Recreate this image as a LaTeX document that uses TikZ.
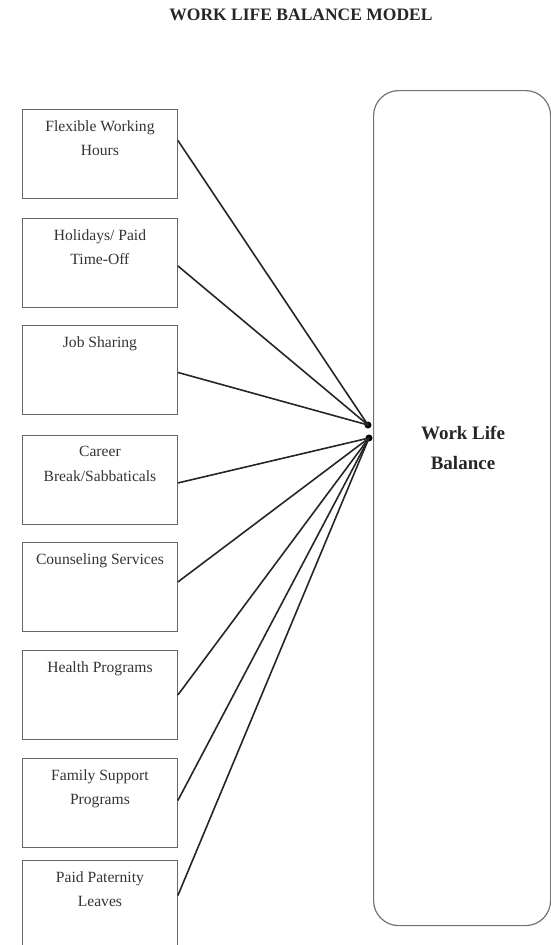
\documentclass[tikz,border=0pt]{standalone}
\usepackage{fontspec}
\setmainfont{Liberation Serif}
\begin{document}
\begin{tikzpicture}[x=1pt,y=-1pt,
  factorbox/.style={draw=black!60, line width=0.9pt, minimum width=155pt, minimum height=89pt, inner sep=0pt, anchor=north west},
  factortext/.style={font=\fontsize{15.6}{24.5}\selectfont, text=black!80, align=center, anchor=north, inner sep=0pt},
  link/.style={line width=1.6pt, draw=black!85},
  hub/.style={circle, fill=black, inner sep=0pt, minimum size=7pt}]
\useasboundingbox (0,0) rectangle (551,945);
\node[font=\bfseries\fontsize{17.5}{20}\selectfont, text=black!85] (title) at (301,15) {WORK LIFE BALANCE MODEL};
% big rounded box
\node[draw=black!55, line width=1.2pt, rounded corners=25pt, minimum width=177pt, minimum height=835pt, anchor=north west, inner sep=0pt] (wlb) at (373,90) {};
\node[font=\bfseries\fontsize{19}{30}\selectfont, text=black!85, align=center] (wlbtext) at (463,448) {Work Life\\Balance};
% hubs
\node[hub] (d1) at (368,425) {};
\node[hub] (d2) at (369,438) {};
% factor boxes
\node[factorbox] (b1) at (22,109) {};
\node[factorbox] (b2) at (22,218) {};
\node[factorbox] (b3) at (22,325) {};
\node[factorbox] (b4) at (22,435) {};
\node[factorbox] (b5) at (22,542) {};
\node[factorbox] (b6) at (22,650) {};
\node[factorbox] (b7) at (22,758) {};
\node[factorbox] (b8) at (22,860) {};
\node[factortext] (t1) at ([yshift=-11pt]b1.north) {Flexible Working\\Hours};
\node[factortext] (t2) at ([yshift=-11pt]b2.north) {Holidays/ Paid\\Time-Off};
\node[factortext] (t3) at ([yshift=-11pt]b3.north) {Job Sharing};
\node[factortext] (t4) at ([yshift=-11pt]b4.north) {Career\\Break/Sabbaticals};
\node[factortext] (t5) at ([yshift=-11pt]b5.north) {Counseling Services};
\node[factortext] (t6) at ([yshift=-11pt]b6.north) {Health Programs};
\node[factortext] (t7) at ([yshift=-11pt]b7.north) {Family Support\\Programs};
\node[factortext] (t8) at ([yshift=-11pt]b8.north) {Paid Paternity\\Leaves};
% connectors
\draw[link] ([yshift=13.5pt]b1.east) -- (d1.center);
\draw[link] ([yshift=-3pt]b2.east) -- (d1.center);
\draw[link] ([yshift=-2.5pt]b3.east) -- (d1.center);
\draw[link] ([yshift=-3pt]b4.east) -- (d2.center);
\draw[link] ([yshift=5pt]b5.east) -- (d2.center);
\draw[link] (b6.east) -- (d2.center);
\draw[link] ([yshift=2.5pt]b7.east) -- (d2.center);
\draw[link] ([yshift=9.5pt]b8.east) -- (d2.center);
\end{tikzpicture}
\end{document}
